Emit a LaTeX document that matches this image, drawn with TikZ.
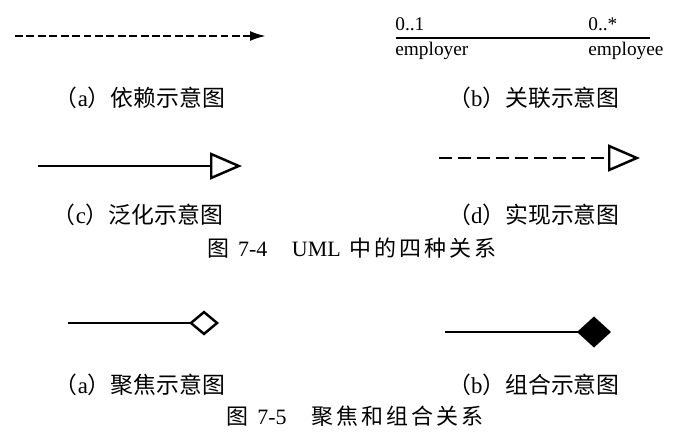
\documentclass[tikz,border=0pt]{standalone}
\usepackage{fontspec}
\setmainfont{Liberation Serif}
\newfontfamily\cjk{Noto Sans CJK SC}
\newfontfamily\cjkwide[LetterSpace=14]{Noto Sans CJK SC}
\usetikzlibrary{arrows.meta, positioning}
\tikzset{
	dep/.style={draw, line width=1.3pt, dash pattern=on 4.5pt off 2pt, -{Latex[length=3.2mm, width=2mm]}},
	assoc/.style={draw, line width=1.1pt},
	gen/.style={draw, line width=1.4pt, -{Triangle[open, length=6.4mm, width=5.4mm, line width=1.4pt]}},
	real/.style={draw, line width=1.4pt, dash pattern=on 7.5pt off 3.3pt, -{Triangle[open, length=6.4mm, width=5.4mm, line width=1.4pt]}},
	aggr/.style={draw, line width=1.4pt, -{Diamond[open, length=6mm, width=5mm, line width=1.4pt]}},
	comp/.style={draw, line width=0.8pt, -{Diamond[length=6.8mm, width=6.2mm]}},
	subcap/.style={font=\fontsize{13}{15}\selectfont, inner sep=0pt},
	figtitle/.style={font=\fontsize{12.5}{15}\selectfont, inner sep=0pt},
	role/.style={font=\fontsize{11}{13}\selectfont, inner sep=0pt}
}

\begin{document}
\begin{tikzpicture}[x=0.02cm, y=-0.02cm]
	\useasboundingbox (0,0) rectangle (681,447);
	
	% Figure 7-4: four relations
	% (a) dependency
	\coordinate (depA) at (15,36);
	\coordinate (depB) at (266,36);
	\draw[dep] (depA) -- (depB);
	\node[subcap] (capa) at (140,98) {{\cjk （}a{\cjk ）依赖示意图}};
	
	% (b) association
	\coordinate (assA) at (396,38);
	\coordinate (assB) at (650,38);
	\draw[assoc] (assA) -- (assB);
	\node[role, anchor=south west] (mul1) at (395,31) {0..1};
	\node[role, anchor=south west] (mul2) at (588,31) {0..*};
	\node[role, anchor=north west] (rol1) at (395,42) {employer};
	\node[role, anchor=north west] (rol2) at (588,42) {employee};
	\node[subcap] (capb) at (534,98) {{\cjk （}b{\cjk ）关联示意图}};
	
	% (c) generalization
	\coordinate (genA) at (38,166);
	\coordinate (genB) at (242,166);
	\draw[gen] (genA) -- (genB);
	\node[subcap] (capc) at (138,215) {{\cjk （}c{\cjk ）泛化示意图}};
	
	% (d) realization
	\coordinate (realA) at (439,158);
	\coordinate (realB) at (640,158);
	\draw[real] (realA) -- (realB);
	\node[subcap] (capd) at (534,215) {{\cjk （}d{\cjk ）实现示意图}};
	
	\node[figtitle] (fig74) at (352,248) {{\cjk 图}\hspace{5pt}7-4\hspace{14pt}UML\hspace{5pt}{\cjkwide 中的四种关系}};
	
	% Figure 7-5: aggregation and composition
	% (a) aggregation
	\coordinate (aggA) at (68,323);
	\coordinate (aggB) at (219,323);
	\draw[aggr] (aggA) -- (aggB);
	\node[subcap] (cape) at (140,385) {{\cjk （}a{\cjk ）聚焦示意图}};
	
	% (b) composition
	\coordinate (comA) at (445,332);
	\coordinate (comB) at (611,332);
	\draw[comp] (comA) -- (comB);
	\node[subcap] (capf) at (534,385) {{\cjk （}b{\cjk ）组合示意图}};
	
	\node[figtitle] (fig75) at (355,416) {{\cjk 图}\hspace{5pt}7-5\hspace{14pt}{\cjkwide 聚焦和组合关系}};
\end{tikzpicture}
\end{document}
